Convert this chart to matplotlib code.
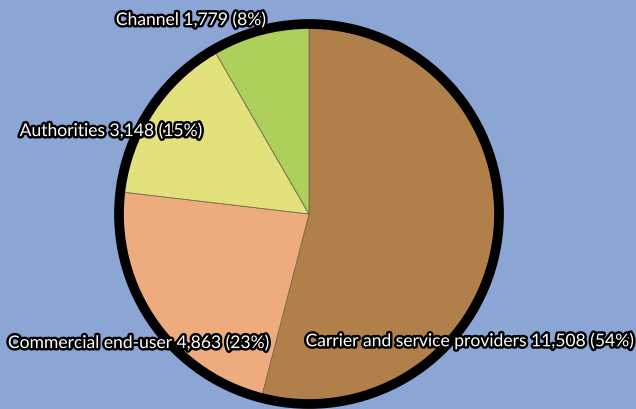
import matplotlib.pyplot as plt
import matplotlib.patheffects as pe
from matplotlib.patches import Circle

segments = ['Carrier and service providers', 'Commercial end-user', 'Authorities', 'Channel']
values = [11508, 4863, 3148, 1779]
colors = ['#b1804a', '#eeac7e', '#e3e17c', '#acd05a']

BG = '#8ba5d5'

fig = plt.figure(figsize=(6.36, 4.10), dpi=100, facecolor=BG)
ax = fig.add_axes([0, 0, 1, 1])
ax.set_facecolor(BG)

# pie drawn in pixel coordinates (y up)
cx, cy, r = 309, 410 - 215, 190
ax.pie(values, colors=colors, startangle=90, counterclock=False,
       center=(cx, cy), radius=r, frame=True,
       wedgeprops=dict(edgecolor='#7a6a50', linewidth=0.6))
ax.add_patch(Circle((cx, cy), r, fill=False, edgecolor='black', linewidth=7, zorder=5))

total = sum(values)
label_pos = [(470, 410 - 342), (139, 410 - 344), (111, 410 - 132), (191, 410 - 21)]
for name, v, (x, y) in zip(segments, values, label_pos):
    pct = round(v / total * 100)
    ax.text(x, y, f'{name} {v:,} ({pct}%)', ha='center', va='center',
            fontsize=12.6, color='white', family='Lato', zorder=10,
            path_effects=[pe.withStroke(linewidth=3.5, foreground='black')])

ax.set_xlim(0, 636)
ax.set_ylim(0, 410)
ax.set_aspect('equal')
ax.axis('off')

fig.savefig('out.png', dpi=100, facecolor=BG)
